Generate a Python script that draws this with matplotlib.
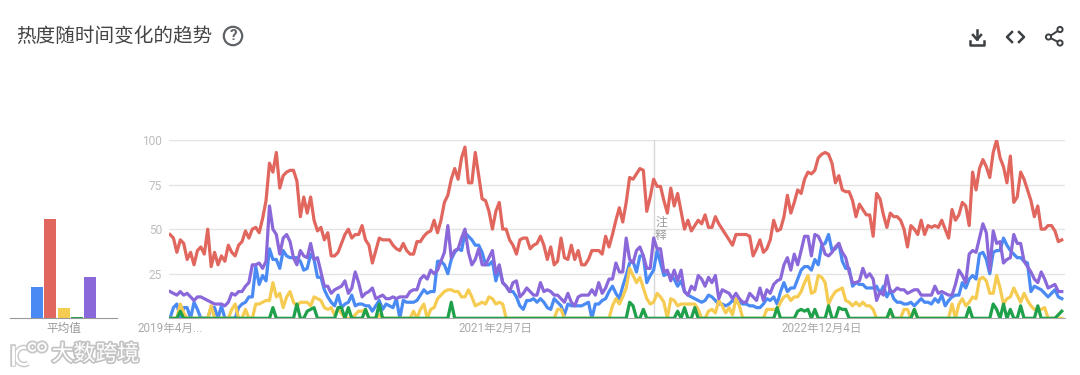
import numpy as np
import matplotlib
matplotlib.use('Agg')
import matplotlib.pyplot as plt
import matplotlib.patheffects as pe
from matplotlib.patches import Circle, Arc

plt.rcParams['font.family'] = ['Roboto', 'Noto Sans CJK SC', 'DejaVu Sans']

# 每周一个点，共 261 周
red = [47,45,37,44,42,33,37,30,38,40, 36,50,29,37,30,35,32,41,37,35,
       41,43,49,45,50,51,48,56,66,87, 82,93,73,80,82,83,83,77,57,68,
       59,68,55,49,51,44,48,35,35,37, 42,47,50,45,47,47,52,44,41,31,
       38,45,44,44,44,41,39,38,42,38, 36,36,43,43,46,48,49,55,48,55,
       65,69,78,84,78,90,96,76,76,93, 80,67,66,60,50,60,65,50,50,44,
       41,36,44,45,45,39,41,42,46,41, 33,40,30,32,45,34,33,41,33,38,
       30,30,33,38,38,38,36,46,40,47, 55,62,54,65,79,78,81,84,83,60,
       68,78,74,74,66,59,73,63,70,60, 50,55,49,52,55,53,58,51,51,57,
       53,50,47,44,41,47,47,47,47,46, 35,39,44,37,39,44,
       55,49,50,57,69,59,65,72,70,78, 82,81,83,90,92,93,92,87,76,80,
       72,71,71,66,57,64,61,58,58,46, 70,67,58,51,59,57,57,55,50,40,
       52,50,47,55,47,52,51,52,51,55, 50,45,61,55,58,65,63,52,82,72,
       84,89,85,79,93,100,90,85,76,91, 65,68,82,78,72,66,57,63,50,50,
       52,52,49,43,44]
purple = [15,14,13,15,13,14,12,10,12,12, 11,10,9,8,8,8,7,9,14,13,
          15,15,18,20,30,30,31,28,32,63, 50,47,36,45,47,43,34,30,38,35,
          34,42,33,34,26,18,18,14,16,17, 18,21,14,17,26,20,12,14,15,17,
          11,12,13,11,11,12,11,12,12,12, 15,16,16,22,24,22,27,25,27,32,
          37,52,34,38,39,45,50,37,30,33, 39,30,30,34,38,25,30,20,18,15,
          20,21,12,14,17,15,13,13,20,15, 16,15,13,13,11,9,14,9,7,12,
          13,13,13,16,13,20,14,17,22,22, 31,26,26,45,33,31,38,40,35,28,
          28,45,39,39,26,27,21,27,21,27, 15,13,18,16,24,22,18,23,20,24,
          11,16,15,14,11,14,11,9,9,14, 12,10,17,10,16,14,
          19,21,22,30,34,27,36,30,38,46, 46,35,47,46,42,36,35,37,40,42,
          37,34,26,20,20,21,28,23,25,22, 10,15,13,24,15,15,17,16,16,14,
          15,16,16,13,13,13,13,18,14,15, 14,13,13,19,27,24,20,36,38,37,
          45,53,48,27,49,42,43,31,33,34, 47,42,42,32,29,26,22,20,26,22,
          17,18,19,15,15]
blue = [0,6,8,0,6,6,0,9,5,0, 0,0,6,6,0,7,0,0,0,0,
        6,8,9,12,12,29,19,24,21,39, 33,33,28,38,35,34,34,34,32,27,
        28,36,33,23,23,16,12,9,7,13, 6,8,9,13,7,8,8,7,7,4,
        7,10,5,8,7,6,11,0,10,9, 9,9,10,13,16,14,15,15,32,32,
        30,25,33,37,39,38,48,46,44,41, 41,37,30,30,32,21,28,20,18,15,
        15,12,7,5,10,10,11,9,11,9, 6,5,11,9,7,2,8,7,7,7,
        7,8,9,0,8,8,10,11,15,18, 14,11,18,24,31,32,26,35,35,20,
        24,27,38,31,24,25,24,22,18,21, 15,13,12,11,10,9,10,13,12,10,
        8,8,7,8,10,9,9,8,8,7, 7,6,6,8,11,10,
        12,8,15,20,15,17,17,22,27,29, 29,27,33,30,41,42,47,38,39,42,
        32,28,28,18,20,19,19,17,17,17, 18,14,18,12,16,11,9,9,8,8,
        9,7,9,11,9,9,8,11,9,13, 7,10,12,13,13,20,17,22,24,22,
        36,37,33,25,37,38,38,45,41,38, 36,34,34,32,31,15,18,17,16,14,
        12,14,16,12,11]
yellow = [0,0,0,8,3,0,0,0,0,0, 0,0,7,0,0,0,0,0,5,8,
          0,0,5,0,0,8,8,9,10,10, 20,12,14,6,12,15,9,7,9,9,
          9,7,12,11,10,6,5,6,2,5, 3,0,0,0,2,4,4,5,0,0,
          0,2,0,0,0,0,0,0,0,0, 0,4,0,5,8,0,5,6,11,13,
          15,16,16,15,15,12,12,16,12,7, 8,9,8,12,11,8,9,8,0,0,
          0,0,0,0,0,0,0,0,0,0, 0,0,0,5,5,0,0,0,0,0,
          0,0,0,0,0,0,0,0,0,7, 11,8,12,17,28,24,20,23,17,11,
          8,9,14,12,9,0,11,10,7,8, 8,8,8,8,5,0,0,4,5,3,
          10,7,3,6,2,11,7,0,0,0, 0,0,0,0,5,5,
          5,5,9,12,13,10,12,12,15,20, 24,14,15,24,23,20,8,12,15,16,
          17,10,9,7,9,7,9,7,7,5, 0,0,0,0,4,0,0,0,5,5,
          0,5,0,0,0,0,0,0,0,0, 0,0,8,0,8,11,7,9,12,11,
          22,23,21,14,14,24,17,8,11,12, 17,13,9,14,10,7,5,5,5,6,
          0,0,0,0,0]
green = [0,0,0,4,0,0,0,0,0,0, 0,0,0,0,0,0,0,0,0,0,
         0,0,0,0,0,0,0,0,0,0, 6,0,0,0,0,0,0,8,0,0,
         4,5,6,0,0,0,0,0,0,6, 6,0,6,0,0,0,0,5,0,0,
         0,8,0,0,0,0,0,0,0,0, 0,0,0,0,0,0,0,0,0,0,
         0,0,9,0,0,0,0,0,0,0, 0,0,0,0,0,0,0,0,0,0,
         0,0,0,0,0,0,0,0,0,0, 0,0,0,0,0,0,0,0,0,0,
         0,0,0,0,0,0,0,0,0,0, 0,0,0,0,9,7,0,0,5,0,
         0,0,0,0,0,0,0,0,4,0, 6,0,0,6,0,0,0,0,0,0,
         0,0,0,0,0,0,0,0,0,0, 0,0,0,0,0,0,0,6,0,0,
         0,0,0,4,5,4,5,0,5,0, 0,0,7,0,0,6,5,5,0,0,
         0,0,0,0,0,0,0,0,0,0, 5,0,0,0,0,0,0,5,0,0,
         0,0,0,0,0,0,0,0,0,0, 0,0,0,6,0,0,0,0,0,0,
         8,5,0,8,0,5,0,0,7,0, 0,0,0,7,0,0,0,0,0,2,
         4]
for s in (red, purple, blue, yellow, green):
    assert len(s) == 261, len(s)

colors = {'blue': '#4a8af4', 'red': '#e0665e', 'yellow': '#f6cb52',
          'green': '#1fa04a', 'purple': '#8b68d9'}
avg = [17.4, 55.8, 5.6, 0.8, 23.4]
avg_colors = [colors['blue'], colors['red'], colors['yellow'], colors['green'], colors['purple']]
y_ticks = [25, 50, 75, 100]
x_ticks = [0, 95, 190]
x_labels = ['2019年4月...', '2021年2月7日', '2022年12月4日']
note_week = 141

W, H = 1080, 375
fig = plt.figure(figsize=(W / 100, H / 100), dpi=100)

# 折线图
ax = fig.add_axes([169 / W, 1 - 318.3 / H, 896 / W, 178.3 / H])
ax.set_xlim(-1 * (170 - 169) / 3.43, (1065 - 170) / 3.43)
ax.set_ylim(0, 100)
ax.axvline(note_week, color='#d8d8d8', lw=1, zorder=1)
for name, s in [('blue', blue), ('red', red), ('yellow', yellow), ('green', green), ('purple', purple)]:
    ax.plot(np.arange(len(s)), s, color=colors[name], lw=2.3, solid_joinstyle='round', zorder=3)
ax.set_yticks(y_ticks)
ax.set_xticks(x_ticks)
ax.set_xticklabels(x_labels, color='#aaaaaa', fontsize=8.4)
ax.tick_params(axis='y', length=0, pad=5, labelcolor='#bdbdbd', labelsize=8.6)
ax.tick_params(axis='x', length=0, pad=2.5)
ax.grid(axis='y', color='#e4e4e4', lw=1)
ax.set_axisbelow(True)
for sp in ('top', 'right', 'left'):
    ax.spines[sp].set_visible(False)
ax.spines['bottom'].set_color('#aaaaaa')
ax.spines['bottom'].set_linewidth(0.8)
ax.text(note_week + 0.4, 43, '注\n释', fontsize=8.5, color='#9a9a9a', linespacing=0.95,
        va='bottom', ha='left', zorder=4)

# 平均值柱状图
ax2 = fig.add_axes([10 / W, 1 - 318.3 / H, 107 / W, 178.3 / H])
ax2.bar(range(5), avg, width=0.92, color=avg_colors)
ax2.set_xlim(-2.03, 6.01)
ax2.set_ylim(0, 100)
ax2.set_yticks([])
ax2.set_xticks([2])
ax2.set_xticklabels(['平均值'], color='#999999', fontsize=8.4)
ax2.tick_params(axis='x', length=0, pad=2.5)
for sp in ('top', 'right', 'left'):
    ax2.spines[sp].set_visible(False)
ax2.spines['bottom'].set_color('#999999')
ax2.patch.set_alpha(0)

# 标题、图标、水印用像素坐标
ov = fig.add_axes([0, 0, 1, 1])
ov.set_xlim(0, W)
ov.set_ylim(H, 0)
ov.axis('off')
ov.patch.set_alpha(0)
ov.text(16.5, 36, '热度随时间变化的趋势', fontsize=14.1, color='#444444', va='center', ha='left')
ov.add_patch(Circle((233, 36), 9.2, fill=False, ec='#5f6368', lw=1.6))
ov.text(233, 36, '?', fontsize=11, color='#5f6368', va='center', ha='center', fontweight='bold')

# 下载
ic = '#3c4043'
ov.plot([977, 977], [30, 39], color=ic, lw=1.8)
ov.plot([973, 977, 981], [35, 39.5, 35], color=ic, lw=1.8)
ov.plot([970, 970, 984, 984], [41, 44.5, 44.5, 41], color=ic, lw=1.8)
# 嵌入
ov.plot([1012, 1007, 1012], [32, 37, 42], color=ic, lw=1.8)
ov.plot([1019, 1024, 1019], [32, 37, 42], color=ic, lw=1.8)
# 分享
ov.plot([1060, 1048.5, 1060], [29.5, 37, 43], color=ic, lw=1.4)
for cx, cy in [(1060, 29.5), (1048.5, 37), (1060, 43)]:
    ov.add_patch(Circle((cx, cy), 2.6, fc='white', ec=ic, lw=1.4, zorder=5))

# 水印
glow = [pe.withStroke(linewidth=2.5, foreground='#c4c4c4')]
ov.text(51.5, 355, '大数跨境', fontsize=15.8, color='white', va='center', ha='left', path_effects=glow)
logo_glow = [pe.Stroke(linewidth=4, foreground='#c8c8c8'), pe.Normal()]
ov.plot([13, 13], [347, 364], color='white', lw=2, path_effects=logo_glow)
c_arc = Arc((24, 356), 16, 17, theta1=60, theta2=300, color='white', lw=2, path_effects=logo_glow)
ov.add_patch(c_arc)
for cx, cy in [(32.5, 347), (42, 347)]:
    ov.add_patch(Circle((cx, cy), 3.8, fc='none', ec='white', lw=1.3, path_effects=logo_glow))

fig.savefig('out.png', dpi=100)
